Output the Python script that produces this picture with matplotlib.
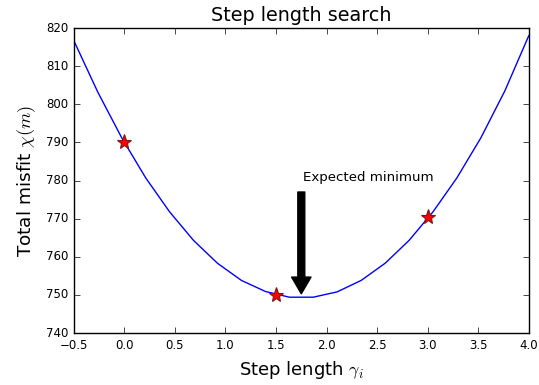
import matplotlib
matplotlib.use("Agg")
import matplotlib.pyplot as plt
import numpy as np

plt.style.use('classic')
plt.rcParams['mathtext.fontset'] = 'cm'

step = [-0.5, -0.263, -0.026, 0.211, 0.447, 0.684, 0.921, 1.158, 1.395, 1.632,
        1.868, 2.105, 2.342, 2.579, 2.816, 3.053, 3.289, 3.526, 3.763, 4.0]
misfit = [816.7, 803.2, 791.2, 780.7, 771.8, 764.3, 758.3, 753.8, 750.9, 749.4,
          749.4, 750.8, 753.8, 758.3, 764.3, 771.8, 780.7, 791.2, 803.5, 818.0]
trial_step = [0.0, 1.5, 3.0]
trial_misfit = [790.0, 750.0, 770.5]

fig = plt.figure(figsize=(5.39, 3.85), dpi=100, facecolor='white')
ax = fig.add_axes([0.137, 0.135, 0.844, 0.792])
ax.plot(step, misfit, color='b', lw=1)
ax.plot(trial_step, trial_misfit, linestyle='none', marker='*', markersize=11,
        markerfacecolor='red', markeredgecolor='#7a1a1a', markeredgewidth=0.8)
ax.annotate('', xy=(1.75, 750.3), xytext=(1.75, 777),
            arrowprops=dict(facecolor='black', edgecolor='black', width=5, headwidth=14, headlength=12))
ax.text(1.77, 779.0, 'Expected minimum', fontsize=9.6, ha='left', va='bottom')
ax.set_xlim(-0.5, 4.0)
ax.set_ylim(740, 820)
ax.set_xticks(np.arange(-0.5, 4.01, 0.5))
ax.set_yticks(np.arange(740, 821, 10))
ax.tick_params(labelsize=8.5)
ax.set_title('Step length search', fontsize=13.8)
ax.set_xlabel(r'Step length $\gamma_i$', fontsize=13)
ax.set_ylabel(r'Total misfit $\chi(m)$', fontsize=13.3, labelpad=6)
fig.savefig('out.png', dpi=100, facecolor='white')
